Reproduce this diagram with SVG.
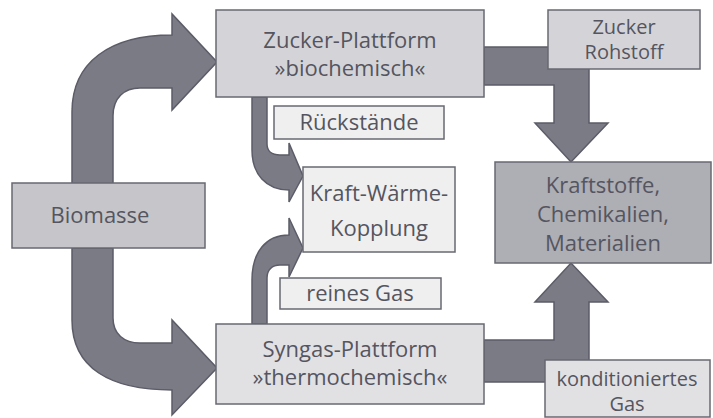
<svg xmlns="http://www.w3.org/2000/svg" width="713" height="418" viewBox="0 0 713 418">
<style>
.box{stroke:#686873;stroke-width:1.5}
.arr{fill:#7b7b86;stroke:#5c5c68;stroke-width:1.5;stroke-linejoin:miter}
text{font-family:"Open Sans","Noto Sans","DejaVu Sans",sans-serif;font-size:22px;fill:#55555f;text-anchor:middle}
.sm{font-size:20px}
</style>
<rect width="713" height="418" fill="#ffffff"/>
<g id="connectors">
<path class="arr" d="M72,184 L72,112 C72,62 110,35 172,35 L172,14 L217,62 L172,110 L172,88 L140,88 C124,88 113,98 113,116 L113,184 Z"/>
<path class="arr" d="M72,248 L72,320 C72,368 110,390 172,390 L172,415 L217,368 L172,320 L172,343 L140,343 C124,343 113,334 113,318 L113,248 Z"/>
<path class="arr" d="M252,97 L252,150 C252,174 266,190 289,190 L289,202 L303,176 L289,143 L289,155 L280,155 C272,155 267,151 267,144 L267,97 Z"/>
<path class="arr" d="M252,324 L252,280 C252,252 266,235 289,235 L289,218 L303,248 L289,277 L289,265 L280,265 C272,265 267,270 267,278 L267,324 Z"/>
<path class="arr" d="M484,47 L589,47 L589,123 L608,123 L571,162 L535,123 L554,123 L554,85 L484,85 Z"/>
<path class="arr" d="M484,382 L589,382 L589,302 L608,302 L571,263 L535,302 L554,302 L554,340 L484,340 Z"/>
</g>
<g id="zucker-plattform">
<rect class="box" x="216" y="10" width="268" height="87" fill="#d4d4d8"/>
<text x="350" y="48">Zucker-Plattform</text>
<text x="350" y="76">»biochemisch«</text>
</g>
<g id="biomasse">
<rect class="box" x="12" y="183" width="193" height="65" fill="#c6c6ca"/>
<text x="100" y="223">Biomasse</text>
</g>
<g id="syngas-plattform">
<rect class="box" x="216" y="324" width="268" height="80" fill="#e1e1e4"/>
<text x="350" y="357">Syngas-Plattform</text>
<text x="350" y="385">»thermochemisch«</text>
</g>
<g id="rueckstaende">
<rect class="box" x="274" y="106" width="170" height="33" fill="#efefef"/>
<text x="359" y="130">Rückstände</text>
</g>
<g id="kwk">
<rect class="box" x="303" y="167" width="152" height="85" fill="#efefef"/>
<text x="379" y="201">Kraft-Wärme-</text>
<text x="379" y="236">Kopplung</text>
</g>
<g id="reines-gas">
<rect class="box" x="280" y="278" width="161" height="31" fill="#efefef"/>
<text x="360" y="301">reines Gas</text>
</g>
<g id="zucker-rohstoff">
<rect class="box" x="548" y="10" width="152" height="59" fill="#d4d4d8"/>
<text class="sm" x="624" y="34">Zucker</text>
<text class="sm" x="624" y="59">Rohstoff</text>
</g>
<g id="kraftstoffe">
<rect class="box" x="495" y="162" width="216" height="101" fill="#aeaeb5"/>
<text x="603" y="193">Kraftstoffe,</text>
<text x="603" y="222">Chemikalien,</text>
<text x="603" y="251">Materialien</text>
</g>
<g id="konditioniertes-gas">
<rect class="box" x="545" y="360" width="165" height="57" fill="#e1e1e4"/>
<text class="sm" x="627" y="386">konditioniertes</text>
<text class="sm" x="627" y="411">Gas</text>
</g>
</svg>
